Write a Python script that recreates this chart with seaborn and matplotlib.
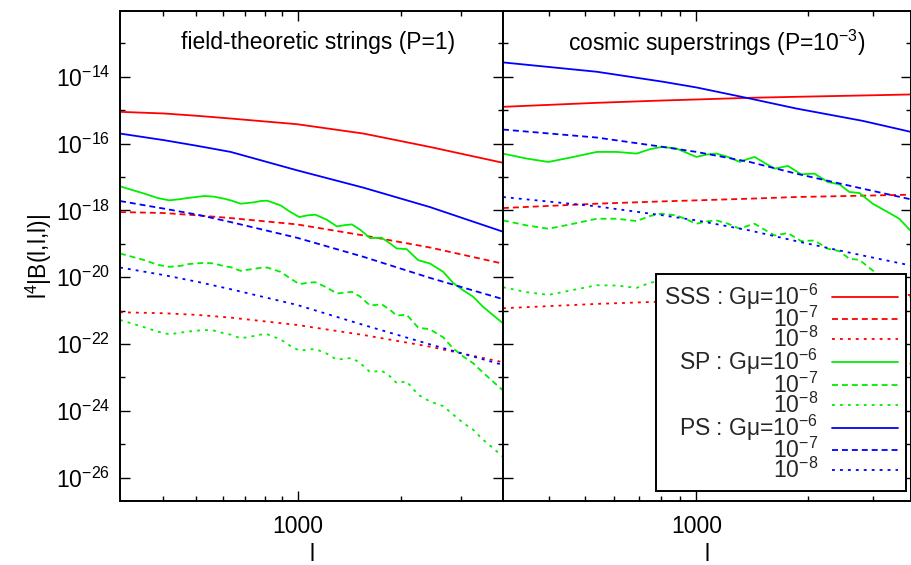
import numpy as np
import seaborn as sns
import matplotlib
matplotlib.use("Agg")
import matplotlib.pyplot as plt
from matplotlib.ticker import FixedLocator, NullFormatter, LogFormatterMathtext, FuncFormatter

##
# 数据: 横轴 l, 纵轴给出 log10(l^4|B(l,l,l)|)
# 左图 field-theoretic strings (P=1)
l_left_smooth = [300, 405, 507, 634, 993, 1556, 2438, 3975]
left_sss_6 = [-15.05, -15.10, -15.17, -15.25, -15.42, -15.70, -16.10, -16.57]
left_sss_7 = [-18.05, -18.08, -18.15, -18.23, -18.42, -18.75, -19.11, -19.59]
left_sss_8 = [-21.05, -21.08, -21.13, -21.21, -21.43, -21.73, -22.08, -22.54]
left_ps_6 = [-15.70, -15.90, -16.07, -16.25, -16.80, -17.32, -17.90, -18.63]
left_ps_7 = [-17.72, -17.95, -18.13, -18.35, -18.82, -19.39, -20.02, -20.65]
left_ps_8 = [-19.71, -19.94, -20.14, -20.36, -20.83, -21.43, -22.01, -22.62]

l_left_sp = [300, 354, 387, 419, 453, 474, 530, 567, 606, 634, 678, 742, 776, 812, 888, 950, 1009,
             1063, 1124, 1215, 1300, 1375, 1439, 1522, 1627, 1761, 1863, 1948, 2084, 2253, 2438,
             2669, 2853, 3051, 3263, 3488, 3732, 3975]
left_sp_6 = [-17.28, -17.50, -17.63, -17.70, -17.66, -17.63, -17.57, -17.59, -17.65, -17.70, -17.80,
             -17.76, -17.72, -17.71, -17.85, -18.05, -18.20, -18.15, -18.13, -18.28, -18.48, -18.44,
             -18.42, -18.58, -18.83, -18.82, -18.99, -19.14, -19.16, -19.49, -19.59, -19.84, -20.17,
             -20.39, -20.58, -20.88, -21.13, -21.36]
left_sp_7 = [-19.29, -19.49, -19.63, -19.69, -19.66, -19.61, -19.57, -19.59, -19.67, -19.70, -19.81,
             -19.75, -19.72, -19.71, -19.84, -20.04, -20.21, -20.17, -20.15, -20.31, -20.49, -20.46,
             -20.44, -20.58, -20.85, -20.81, -20.98, -21.15, -21.12, -21.51, -21.56, -21.80, -22.13,
             -22.37, -22.57, -22.85, -23.12, -23.37]
left_sp_8 = [-21.28, -21.50, -21.63, -21.71, -21.66, -21.63, -21.58, -21.60, -21.68, -21.72, -21.83,
             -21.76, -21.72, -21.71, -21.86, -22.06, -22.20, -22.17, -22.15, -22.29, -22.47, -22.44,
             -22.42, -22.57, -22.84, -22.80, -22.97, -23.17, -23.12, -23.52, -23.72, -23.86, -24.11,
             -24.36, -24.56, -24.86, -25.11, -25.36]

# 右图 cosmic superstrings (P=10^-3)
l_right_smooth = [300, 538, 813, 1000, 1392, 1860, 2813, 3797]
right_sss_6 = [-14.90, -14.78, -14.71, -14.68, -14.63, -14.60, -14.56, -14.53]
right_sss_7 = [-17.93, -17.80, -17.73, -17.70, -17.65, -17.60, -17.56, -17.53]
right_sss_8 = [-20.93, -20.80, -20.73, -20.70, -20.65, -20.60, -20.56, -20.53]
right_ps_6 = [-13.57, -13.85, -14.15, -14.32, -14.65, -14.95, -15.32, -15.65]
right_ps_7 = [-15.58, -15.82, -16.10, -16.25, -16.55, -16.90, -17.35, -17.67]
right_ps_8 = [-17.60, -17.88, -18.15, -18.30, -18.60, -18.92, -19.35, -19.65]

l_right_sp = [300, 348, 398, 456, 538, 609, 689, 748, 805, 884, 1000, 1064, 1132, 1217, 1309, 1378,
              1436, 1529, 1626, 1767, 1919, 2084, 2264, 2434, 2590, 2756, 2994, 3286, 3532, 3797]
right_sp_6 = [-16.30, -16.45, -16.55, -16.42, -16.25, -16.25, -16.30, -16.17, -16.10, -16.15, -16.40,
              -16.33, -16.30, -16.40, -16.55, -16.46, -16.40, -16.58, -16.75, -16.67, -16.92, -16.90,
              -17.15, -17.22, -17.45, -17.48, -17.80, -18.05, -18.25, -18.62]
right_sp_7 = [-18.30, -18.45, -18.55, -18.42, -18.25, -18.25, -18.32, -18.17, -18.10, -18.15, -18.40,
              -18.33, -18.30, -18.40, -18.55, -18.46, -18.40, -18.58, -18.75, -18.68, -18.92, -18.90,
              -19.15, -19.22, -19.45, -19.48, -19.80, -20.10, -20.30, -20.60]
right_sp_8 = [-20.30, -20.45, -20.53, -20.40, -20.24, -20.25, -20.32, -20.17, -20.10, -20.15, -20.40,
              -20.33, -20.30, -20.40, -20.55, -20.46, -20.40, -20.58, -20.75, -20.68, -20.92, -20.90,
              -21.15, -21.22, -21.45, -21.48, -21.80, -22.10, -22.30, -22.60]

legend_labels = ["SSS : Gμ=$10^{-6}$", "$10^{-7}$", "$10^{-8}$",
                 "SP : Gμ=$10^{-6}$", "$10^{-7}$", "$10^{-8}$",
                 "PS : Gμ=$10^{-6}$", "$10^{-7}$", "$10^{-8}$"]

##
# 样式
sns.set_theme(style="ticks")
plt.rcParams['font.family'] = ['Liberation Sans', 'DejaVu Sans']
plt.rcParams['mathtext.fontset'] = 'custom'
plt.rcParams['mathtext.rm'] = 'Liberation Sans'
plt.rcParams['mathtext.it'] = 'Liberation Sans:italic'
plt.rcParams['mathtext.default'] = 'regular'

FS = 16.5
LW = 1.3
colors = {'SSS': '#ff0000', 'SP': '#00ee00', 'PS': '#0000ff'}
styles = {6: '-', 7: (0, (3.3, 2.2)), 8: (0, (1.6, 2.8))}

fig = plt.figure(figsize=(9.12, 5.65), dpi=100)
ax1 = fig.add_axes([0.1316, 0.1133, 0.4200, 0.8673])
ax2 = fig.add_axes([0.5515, 0.1133, 0.4474, 0.8673], sharey=ax1)

panels = [
    (ax1, {('SSS', 6): (l_left_smooth, left_sss_6), ('SSS', 7): (l_left_smooth, left_sss_7),
           ('SSS', 8): (l_left_smooth, left_sss_8), ('SP', 6): (l_left_sp, left_sp_6),
           ('SP', 7): (l_left_sp, left_sp_7), ('SP', 8): (l_left_sp, left_sp_8),
           ('PS', 6): (l_left_smooth, left_ps_6), ('PS', 7): (l_left_smooth, left_ps_7),
           ('PS', 8): (l_left_smooth, left_ps_8)}),
    (ax2, {('SSS', 6): (l_right_smooth, right_sss_6), ('SSS', 7): (l_right_smooth, right_sss_7),
           ('SSS', 8): (l_right_smooth, right_sss_8), ('SP', 6): (l_right_sp, right_sp_6),
           ('SP', 7): (l_right_sp, right_sp_7), ('SP', 8): (l_right_sp, right_sp_8),
           ('PS', 6): (l_right_smooth, right_ps_6), ('PS', 7): (l_right_smooth, right_ps_7),
           ('PS', 8): (l_right_smooth, right_ps_8)}),
]

handles = []
for ax, series in panels:
    ax.set_xscale('log')
    ax.set_yscale('log')
    for (model, gmu), (lx, ly) in series.items():
        sns.lineplot(x=np.array(lx, dtype=float), y=10.0 ** np.array(ly), ax=ax,
                     color=colors[model], linestyle=styles[gmu], linewidth=LW,
                     estimator=None, sort=False, legend=False)
        if ax is ax2:
            handles.append(ax.get_lines()[-1])

ax1.set_xlim(300, 4000)
ax2.set_xlim(300, 3800)
ax1.set_ylim(10 ** -26.7, 10 ** -12.03)

##
# 坐标轴
for ax in (ax1, ax2):
    ax.xaxis.set_major_locator(FixedLocator([1000]))
    ax.xaxis.set_minor_locator(FixedLocator([400, 500, 600, 700, 800, 900, 2000, 3000]))
    ax.xaxis.set_major_formatter(FuncFormatter(lambda v, p: f"{v:.0f}"))
    ax.xaxis.set_minor_formatter(NullFormatter())
    ax.yaxis.set_major_locator(FixedLocator([10.0 ** e for e in range(-26, -13, 2)]))
    ax.yaxis.set_minor_locator(FixedLocator([10.0 ** e for e in range(-27, -11, 2)]))
    ax.yaxis.set_major_formatter(LogFormatterMathtext())
    ax.yaxis.set_minor_formatter(NullFormatter())
    ax.tick_params(which='both', direction='in', top=True, right=True, width=1.0,
                   color='black', labelsize=FS, labelcolor='black')
    ax.tick_params(which='major', length=7.2)
    ax.tick_params(which='minor', length=3.6)
    ax.tick_params(axis='x', which='major', pad=10)
    ax.tick_params(axis='y', which='major', pad=7)
    for sp in ax.spines.values():
        sp.set_linewidth(1.4)
        sp.set_color('black')
    ax.set_xlabel('l', fontsize=FS, labelpad=4, color='black')
    ax.grid(False)

ax2.tick_params(labelleft=False)
ax1.set_ylabel('l$^4$|B(l,l,l)|', fontsize=FS, labelpad=1, color='black')
ax2.set_ylabel('')

ax1.text(0.517, 0.935, 'field-theoretic strings (P=1)', transform=ax1.transAxes,
         ha='center', va='center', fontsize=FS, color='black')
ax2.text(0.525, 0.935, 'cosmic superstrings (P=$10^{-3}$)', transform=ax2.transAxes,
         ha='center', va='center', fontsize=FS, color='black')

leg = ax2.legend(handles, legend_labels, loc='lower right', bbox_to_anchor=(0.988, 0.02),
                 borderaxespad=0, markerfirst=False, fancybox=False, framealpha=1,
                 edgecolor='black', fontsize=FS, handlelength=2.9, handletextpad=0.6,
                 labelspacing=-0.22, borderpad=0.35)
leg.get_frame().set_linewidth(1.4)

fig.savefig('out.png', dpi=100)
